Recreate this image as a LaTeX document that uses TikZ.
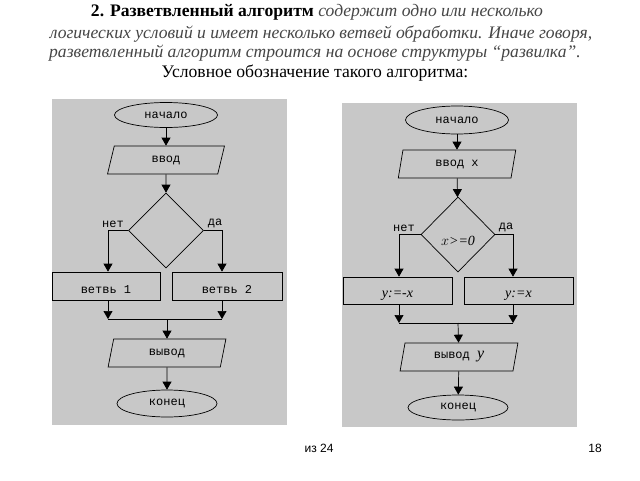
\documentclass[tikz,border=0pt]{standalone}
\usepackage{fontspec}
\setmainfont{Liberation Serif}
\newfontfamily\monof{Liberation Mono}
\newfontfamily\arialf{Liberation Sans}
\usetikzlibrary{shapes.geometric,arrows.meta}
\definecolor{panelgray}{RGB}{200,200,200}
\definecolor{italgray}{RGB}{70,70,70}
\begin{document}
\begin{tikzpicture}[x=1pt,y=-1pt,
  every node/.style={inner sep=0pt},
  shp/.style={draw=black,line width=0.7pt},
  term/.style={shp,ellipse,font=\monof\fontsize{12}{12}\selectfont},
  io/.style={shp,trapezium,trapezium left angle=78,trapezium right angle=102,trapezium stretches=true,font=\monof\fontsize{12}{12}\selectfont},
  cond/.style={shp,diamond,font=\itshape\fontsize{14}{14}\selectfont},
  proc/.style={shp,rectangle,font=\monof\fontsize{12}{12}\selectfont,text height=17pt,text depth=3pt},
  lbl/.style={font=\monof\fontsize{12}{12}\selectfont,anchor=south,inner sep=1pt},
  arr/.style={draw=black,line width=0.7pt,-{Triangle[length=8pt,width=9pt]}},
  ln/.style={draw=black,line width=0.7pt},
  hdr/.style={anchor=base,font=\fontsize{17.6}{20}\selectfont}]
\useasboundingbox (0,0) rectangle (640,480);
\fill[white] (0,0) rectangle (640,480);

% header text
\node[hdr] (t1) at (317,16) {\textbf{2. Разветвленный алгоритм} {\color{italgray}\itshape содержит одно или несколько}};
\node[hdr] (t2) at (321,38) {\color{italgray}\itshape логических условий и имеет несколько ветвей обработки. Иначе говоря,};
\node[hdr] (t3) at (315,57) {\color{italgray}\itshape разветвленный алгоритм строится на основе структуры “развилка”.};
\node[hdr] (t4) at (315,77) {Условное обозначение такого алгоритма:};

% panels
\fill[panelgray] (52,99) rectangle (287,425);
\fill[panelgray] (342,103) rectangle (577,427);

% left flowchart
\node[term,minimum width=103,minimum height=25] (s1) at (166,115) {начало};
\node[io,minimum width=117,minimum height=28] (i1) at (166,160) {ввод};
\node[cond,minimum width=75,minimum height=75] (d1) at (166,230.5) {};
\node[proc,minimum width=108,minimum height=28] (b1) at (106,286) {ветвь 1};
\node[proc,minimum width=110,minimum height=28] (b2) at (227,286) {ветвь 2};
\node[io,minimum width=118,minimum height=28] (o1) at (167,353) {вывод};
\node[term,minimum width=100,minimum height=27] (e1) at (167,403.5) {конец};
\coordinate (jl1) at (108,319);
\coordinate (jr1) at (222,319);
\coordinate (jm1) at (167,319);
\node[lbl] (n1) at (113,229) {нет};
\node[lbl] (y1) at (215,229) {да};

\draw[arr] (s1) -- (i1);
\draw[arr] (i1) -- (d1);
\draw[arr] (d1.west) -| (b1.north -| jl1);
\draw[arr] (d1.east) -| (b2.north -| jr1);
\draw[arr] (b1.south -| jl1) -- (jl1);
\draw[arr] (b2.south -| jr1) -- (jr1);
\draw[ln] (jl1) -- (jr1);
\draw[arr] (jm1) -- (o1);
\draw[arr] (o1) -- (e1);

% right flowchart
\node[term,minimum width=103,minimum height=28] (s2) at (457,120) {начало};
\node[io,minimum width=118,minimum height=28] (i2) at (457,164) {ввод x};
\node[cond,minimum width=74,minimum height=75,text height=23pt,text depth=2pt] (d2) at (458,234.5) {$x$>=0};
\node[proc,minimum width=109,minimum height=27,font=\itshape\fontsize{14}{14}\selectfont] (c1) at (397.5,290.5) {y:=-x};
\node[proc,minimum width=109,minimum height=27,font=\itshape\fontsize{14}{14}\selectfont] (c2) at (518.5,290.5) {y:=x};
\node[io,minimum width=118,minimum height=28] (o2) at (459,357) {вывод {\rmfamily\itshape\fontsize{16}{16}\selectfont y}};
\node[term,minimum width=100,minimum height=25] (e2) at (458,407.5) {конец};
\coordinate (jl2) at (399,323);
\coordinate (jr2) at (513,323);
\coordinate (jm2) at (458,323);
\node[lbl] (n2) at (404,233) {нет};
\node[lbl] (y2) at (506,233) {да};

\draw[arr] (s2) -- (i2);
\draw[arr] (i2) -- (d2);
\draw[arr] (d2.west) -| (c1.north -| jl2);
\draw[arr] (d2.east) -| (c2.north -| jr2);
\draw[arr] (c1.south -| jl2) -- (jl2);
\draw[arr] (c2.south -| jr2) -- (jr2);
\draw[ln] (jl2) -- (jr2);
\draw[arr] (jm2) -- (o2);
\draw[arr] (o2) -- (e2);

% footer
\node[font=\arialf\fontsize{12}{12}\selectfont] (f1) at (319,448) {из 24};
\node[font=\arialf\fontsize{12}{12}\selectfont] (f2) at (595,448) {18};
\end{tikzpicture}
\end{document}
